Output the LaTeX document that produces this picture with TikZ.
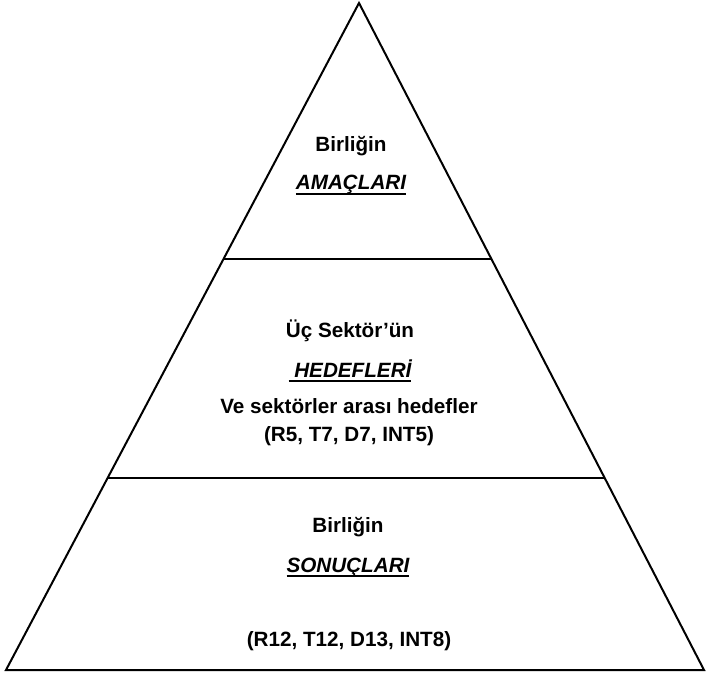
\documentclass[tikz,border=0pt]{standalone}
\usepackage{fontspec}
\setmainfont{Liberation Sans}
\usetikzlibrary{calc}

\newcommand{\ulword}[1]{\setbox0\hbox{#1}\rlap{\rule[-4pt]{\wd0}{1.4pt}}\box0}

\tikzset{
  pyr/.style={line width=1.5pt, line join=miter},
  lbl/.style={anchor=base, inner sep=0pt, font=\bfseries\fontsize{15.5}{18}\selectfont},
  ulbl/.style={lbl, font=\bfseries\itshape\fontsize{15.5}{18}\selectfont}
}

\begin{document}
\begin{tikzpicture}[x=0.75pt, y=-0.75pt]
\useasboundingbox (0,0) rectangle (706,677);

% outline
\coordinate (apex) at (359,3);
\coordinate (bl) at (6,670);
\coordinate (br) at (704,670);
\coordinate (l1) at ($(apex)!0.384!(bl)$);
\coordinate (r1) at ($(apex)!0.384!(br)$);
\coordinate (l2) at ($(apex)!0.712!(bl)$);
\coordinate (r2) at ($(apex)!0.712!(br)$);
\draw[pyr] (apex) -- (bl) -- (br) -- cycle;
\draw[pyr] (l1) -- (r1);
\draw[pyr] (l2) -- (r2);

% top
\node[lbl] (topa) at (351,152) {Birliğin};
\node[ulbl] (topb) at (351,190) {\ulword{AMAÇLARI}};

% middle
\node[lbl] (mida) at (350,337) {Üç Sektör’ün};
\node[ulbl] (midb) at (350,377) {\ulword{\ HEDEFLERİ}};
\node[lbl] (midc) at (349,413) {Ve sektörler arası hedefler};
\node[lbl] (midd) at (349,441) {(R5, T7, D7, INT5)};

% bottom
\node[lbl] (bota) at (348,532) {Birliğin};
\node[ulbl] (botb) at (348,572) {\ulword{SONUÇLARI}};
\node[lbl] (botc) at (349,646) {(R12, T12, D13, INT8)};
\end{tikzpicture}
\end{document}
